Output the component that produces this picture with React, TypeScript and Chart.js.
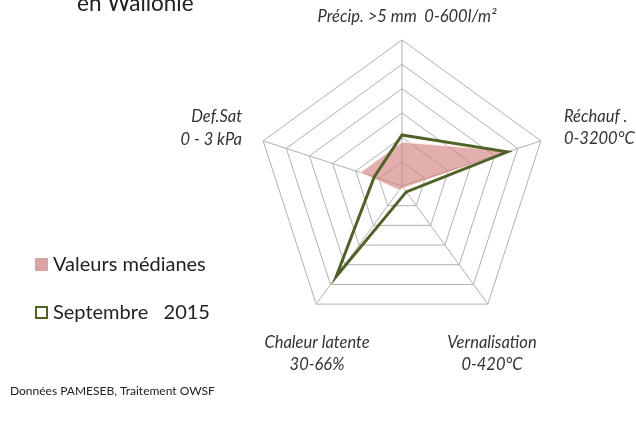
import React, { useEffect, useRef } from "react";
import { Chart, registerables } from "chart.js";

Chart.register(...registerables);

// ---- data ----
const axisNames = [
  "Précip. >5 mm  0-600l/m²",
  "Réchauf. 0-3200°C",
  "Vernalisation 0-420°C",
  "Chaleur latente 30-66%",
  "Def.Sat 0 - 3 kPa",
];
const axisLabelLines = [
  ["Précip. >5 mm  0-600l/m²"],
  ["Réchauf .", "0-3200°C"],
  ["Vernalisation", "0-420°C"],
  ["Chaleur latente", "30-66%"],
  ["Def.Sat", "0 - 3 kPa"],
];
const seriesNames = ["Valeurs médianes", "Septembre   2015"];
const medianValues = [0.36, 0.93, 0.02, 0.04, 0.36];
const sept2015Values = [0.42, 0.91, 0.06, 0.92, 0.24];
const scaleMax = 1.2;
const scaleStep = 0.2;
const titleText = "en Wallonie";
const footerText = "Données PAMESEB, Traitement OWSF";

// ---- layout / style (not data) ----
const W = 636;
const H = 426;
const FONT = "Lato, 'Open Sans', sans-serif";
const PINK = "rgba(210,125,125,0.62)";
const GREEN = "#4f6228";
const GRID = "#b0b0b0";
const TEXT = "#333333";
// label anchor: [x, firstLineY, align, lineGap]
const labelAnchors: [number, number, CanvasTextAlign, number][] = [
  [407, 17, "center", 0],
  [564, 117, "left", 22],
  [492, 343, "center", 22],
  [317, 343, "center", 22],
  [242, 117, "right", 23],
];

const textPlugin = {
  id: "texts",
  afterDraw(chart: any) {
    const ctx: CanvasRenderingContext2D = chart.ctx;
    ctx.save();
    ctx.fillStyle = TEXT;
    ctx.textBaseline = "middle";
    // axis labels
    ctx.font = `italic 16.5px ${FONT}`;
    axisLabelLines.forEach((lines, i) => {
      const [x, y, align, gap] = labelAnchors[i];
      ctx.textAlign = align;
      lines.forEach((ln, j) => ctx.fillText(ln, x, y + j * gap));
    });
    // title (partially cut at top)
    ctx.textAlign = "left";
    ctx.textBaseline = "alphabetic";
    ctx.fillStyle = "#222222";
    ctx.font = `22.5px ${FONT}`;
    ctx.fillText(titleText, 77, 11);
    // legend
    ctx.textBaseline = "middle";
    ctx.font = `20px ${FONT}`;
    ctx.fillStyle = "#d9a3a3";
    ctx.fillRect(35, 258, 13, 13);
    ctx.fillStyle = "#222222";
    ctx.fillText(seriesNames[0], 53, 265);
    ctx.strokeStyle = GREEN;
    ctx.lineWidth = 2;
    ctx.strokeRect(36, 307, 11, 11);
    ctx.fillText(seriesNames[1], 53, 313);
    // footer
    ctx.font = `12px ${FONT}`;
    ctx.fillText(footerText, 10, 391);
    ctx.restore();
  },
};

export default function App() {
  const ref = useRef<HTMLCanvasElement | null>(null);
  useEffect(() => {
    if (!ref.current) return;
    const chart = new Chart(ref.current, {
      type: "radar",
      data: {
        labels: axisNames,
        datasets: [
          {
            label: seriesNames[1],
            data: sept2015Values,
            fill: false,
            borderColor: GREEN,
            borderWidth: 3,
            pointRadius: 0,
            order: 0,
          },
          {
            label: seriesNames[0],
            data: medianValues,
            fill: true,
            backgroundColor: PINK,
            borderColor: "rgba(255,235,225,0.9)",
            borderWidth: 1,
            pointRadius: 0,
            order: 1,
          },
        ],
      },
      options: {
        responsive: false,
        animation: false,
        devicePixelRatio: 1,
        layout: { padding: { left: 256, right: 88, top: 40, bottom: 94 } },
        plugins: { legend: { display: false }, tooltip: { enabled: false } },
        elements: { line: { tension: 0 } },
        scales: {
          r: {
            min: 0,
            max: scaleMax,
            ticks: { display: false, stepSize: scaleStep },
            grid: { color: GRID, lineWidth: 1 },
            angleLines: { color: GRID, lineWidth: 1 },
            pointLabels: { display: false },
          },
        },
      },
      plugins: [textPlugin],
    });
    return () => chart.destroy();
  }, []);
  return (
    <div style={{ position: "absolute", left: 0, top: 0, width: W, height: H, background: "#fff" }}>
      <canvas ref={ref} width={W} height={H} style={{ width: W, height: H, display: "block" }} />
    </div>
  );
}
